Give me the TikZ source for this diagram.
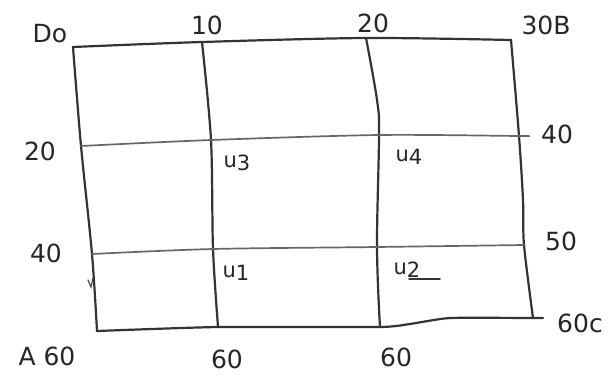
\documentclass[tikz,border=0pt]{standalone}
\usepackage{fontspec}
\setmainfont{DejaVu Sans}
\begin{document}
\begin{tikzpicture}[x=1pt,y=-1pt,
  pen/.style={draw=black!80,line width=2.2pt,line cap=round,line join=round},
  penlight/.style={draw=black!60,line width=1.7pt,line cap=round,line join=round},
  lbl/.style={font=\fontsize{25}{27}\selectfont\color{black!85}, inner sep=0pt},
  ulbl/.style={font=\fontsize{21}{23}\selectfont\color{black!85}, inner sep=0pt}]
\useasboundingbox (0,0) rectangle (612,383);
\fill[white] (0,0) rectangle (612,383);
% grid points
\coordinate (TL) at (73,47);  \coordinate (T1) at (202,42); \coordinate (T2) at (366,38); \coordinate (TR) at (511,40);
\coordinate (L1) at (81,146); \coordinate (M11) at (211,140); \coordinate (M12) at (379,135); \coordinate (R1) at (519,136); \coordinate (R1x) at (524,136);
\coordinate (L2) at (92,254); \coordinate (M21) at (213,249); \coordinate (M22) at (377,247); \coordinate (R2) at (524,245);
\coordinate (BL) at (97,331); \coordinate (B1) at (218,327); \coordinate (B2) at (380,327); \coordinate (BR) at (533,318); \coordinate (BRx) at (543,318);
\coordinate (C2a) at (377,100); \coordinate (W0) at (410,324); \coordinate (W1) at (450,318);
\coordinate (Ra) at (523,200);
% top and bottom
\draw[pen] plot[smooth,tension=0.5] coordinates {(TL) (T1) (T2) (TR)};
\draw[pen] plot[smooth,tension=0.3] coordinates {(BL) (B1) (B2) (W0) (W1) (BR) (BRx)};
% verticals
\draw[pen] plot[smooth,tension=0.5] coordinates {(TL) (L1) (L2) (BL)};
\draw[pen] plot[smooth,tension=0.5] coordinates {(T1) (M11) (M21) (B1)};
\draw[pen] plot[smooth,tension=0.6] coordinates {(T2) (C2a) (M12) (M22) (B2)};
\draw[pen] plot[smooth,tension=0.5] coordinates {(TR) (R1) (Ra) (R2) (BR)};
% rows
\draw[penlight] plot[smooth,tension=0.5] coordinates {(L1) (M11) (M12) (R1) (R1x)};
\draw[penlight] plot[smooth,tension=0.5] coordinates {(L2) (M21) (M22) (R2)};
% small mark on left edge
\coordinate (k1) at (88,280); \coordinate (k2) at (91,287); \coordinate (k3) at (93,278);
\draw[black!70,line width=1.2pt,line cap=round] (k1) -- (k2) -- (k3);
% labels
\node[lbl] (D) at (50,34) {Do};
\node[lbl] (t10) at (207,25) {10};
\node[lbl] (t20) at (373,23) {20};
\node[lbl] (B) at (546,25) {30B};
\node[lbl] (l20) at (40,151) {20};
\node[lbl] (r40) at (557,134) {40};
\node[lbl] (l40) at (46,253) {40};
\node[lbl] (r50) at (561,241) {50};
\node[lbl] (C) at (580,323) {60c};
\node[lbl] (A) at (47,356) {A 60};
\node[lbl] (b60a) at (227,359) {60};
\node[lbl] (b60b) at (396,357) {60};
\node[ulbl] (u3) at (237,163) {u\raisebox{-3pt}{3}};
\node[ulbl] (u4) at (409,157) {u\raisebox{-3pt}{4}};
\node[ulbl] (u1) at (236,273) {u\raisebox{-3pt}{1}};
\node[ulbl] (u2) at (407,270) {u\raisebox{-3pt}{2}};
\coordinate (ua) at (409,279); \coordinate (ub) at (440,279);
\draw[black!80,line width=1.5pt,line cap=round] (ua) -- (ub);
\end{tikzpicture}
\end{document}
